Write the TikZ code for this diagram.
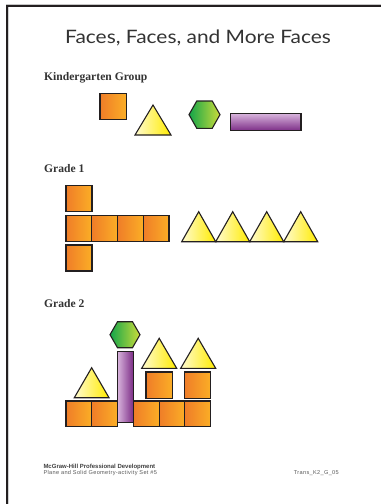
\documentclass[tikz,border=0pt]{standalone}
\usepackage{fontspec}
\setmainfont{Liberation Serif}
\newfontfamily\titlefont{Lato}
\newfontfamily\footfont{Liberation Sans}
\newfontfamily\footfontsp[LetterSpace=6]{Liberation Sans}
\definecolor{ink}{HTML}{231F20}
\definecolor{txt}{HTML}{333333}
\definecolor{orA}{HTML}{EF7D28}
\definecolor{orB}{HTML}{FBAE26}
\definecolor{yeA}{HTML}{FFFBD0}
\definecolor{yeB}{HTML}{FFEB00}
\definecolor{grA}{HTML}{13A54A}
\definecolor{grB}{HTML}{CBDC3A}
\definecolor{puA}{HTML}{D9B5DD}
\definecolor{puB}{HTML}{7C2D87}
\tikzset{
  shp/.style={draw=ink, line width=1.1pt, line join=miter},
  orsq/.style={shp, left color=orA, right color=orB},
  ytr/.style={shp, left color=yeA, right color=yeB},
  ghx/.style={shp, left color=grA, right color=grB},
  purh/.style={shp, top color=puA, bottom color=puB},
  purv/.style={shp, left color=puA, right color=puB},
  heading/.style={anchor=base west, inner sep=0pt, text=txt, font=\bfseries\fontsize{11.6}{12}\selectfont},
}
\newcommand\osqr[3]{\path[orsq] (#1,#2) rectangle ++(#3,#3);}
\newcommand\ytrig[4]{\path[ytr] (#1,#2) -- ++(#3,0) -- ++(-#3/2,-#4) -- cycle;}
\newcommand\ghexa[4]{\path[ghx] (#1,#2+#4/2) -- ++(#3/4,-#4/2) -- ++(#3/2,0) -- ++(#3/4,#4/2) -- ++(-#3/4,#4/2) -- ++(-#3/2,0) -- cycle;}
\begin{document}
\begin{tikzpicture}[x=1pt,y=-1pt]
\useasboundingbox (0,0) rectangle (381,504);
\fill[white] (0,0) rectangle (381,504);
% frame
\draw[gray!45, line width=1pt] (6,4.3) -- (381,4.3);
\draw[gray!35, line width=1pt] (8.6,7.3) -- (8.6,504);
\draw[ink, line width=2pt] (6,6.3) -- (381,6.3);
\draw[ink, line width=2pt] (7,5.3) -- (7,504);
% title
\node (title) [anchor=base, inner sep=0pt, text=txt, font=\titlefont\fontsize{18.5}{20}\selectfont] at (198,43.3) {\scalebox{1.13}[1]{Faces, Faces, and More Faces}};
% headings
\node (kg) [heading] at (44,80) {Kindergarten Group};
\node (g1) [heading] at (44,172.7) {Grade 1};
\node (g2) [heading] at (44,307.3) {Grade 2};
% Kindergarten
\osqr{100}{93.3}{26.5}
\ytrig{135}{135}{36}{30}
\ghexa{189}{101}{31}{27.3}
\path[purh] (230.7,113.3) rectangle (301,130.7);
% Grade 1
\osqr{66}{185.2}{26}
\foreach \i in {0,1,2,3} {\osqr{66+25.75*\i}{215.5}{25.75}}
\osqr{66}{245}{26}
\foreach \i in {0,1,2,3} {\ytrig{181.7+34*\i}{241.7}{34}{30}}
% Grade 2
\ghexa{110}{321.7}{30}{26}
\foreach \i in {0,1} {\osqr{66+25.65*\i}{401}{25.65}}
\foreach \i in {0,1,2} {\osqr{133.3+25.8*\i}{401}{25.8}}
\path[purv] (117.3,351.7) rectangle (133.3,422.7);
\ytrig{74.3}{397.7}{34.7}{30}
\osqr{146}{372}{26.6}
\osqr{184.2}{372}{26.6}
\ytrig{141.7}{368.3}{35}{30}
\ytrig{180.7}{368.3}{35}{30}
% footer
\node (f1) [anchor=base west, inner sep=0pt, text=black!75, font=\footfont\bfseries\fontsize{6}{7}\selectfont] at (43.3,468.5) {McGraw-Hill Professional Development};
\node (f2) [anchor=base west, inner sep=0pt, text=black!65, font=\footfontsp\fontsize{5.6}{7}\selectfont] at (43.3,474.8) {Plane and Solid Geometry-activity Set \#5};
\node (f3) [anchor=base east, inner sep=0pt, text=black!65, font=\footfontsp\fontsize{5.6}{7}\selectfont] at (339,474.8) {Trans\_K2\_G\_05};
\end{tikzpicture}
\end{document}
